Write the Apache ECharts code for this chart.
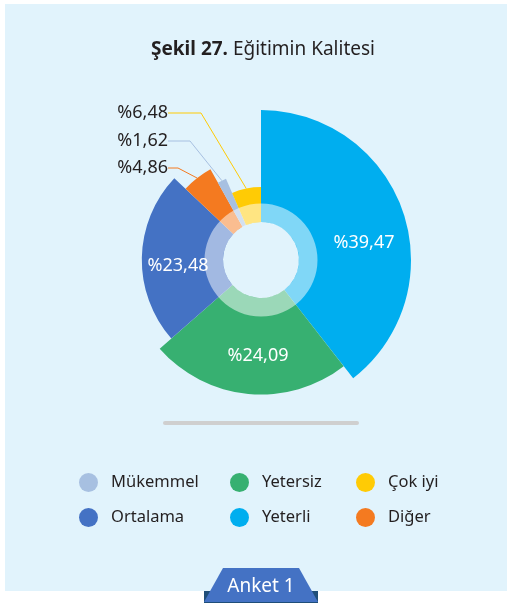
<!DOCTYPE html>
<html>
<head>
<meta charset="utf-8">
<script src="https://cdn.jsdelivr.net/npm/echarts@6/dist/echarts.min.js"></script>
<style>
  html, body { margin: 0; padding: 0; background: #fff; }
  #chart { width: 508px; height: 603px; }
</style>
</head>
<body>
<div id="chart"></div>
<script>
// veriler (saat yönünde, tepeden başlayarak)
const categories = ['Yeterli', 'Yetersiz', 'Ortalama', 'Diğer', 'Mükemmel', 'Çok iyi'];
const values = [39.47, 24.09, 23.48, 4.86, 1.62, 6.48];
// lejant sütunları
const legendColumns = [['Mükemmel', 'Ortalama'], ['Yetersiz', 'Yeterli'], ['Çok iyi', 'Diğer']];

// stil
const colors = ['#00AEEF', '#37B071', '#4472C4', '#F47A20', '#A7C0E1', '#FFCB05'];
const FONT = 'Noto Sans';
const TEXT = '#231F20';
const center = [261, 260];
const innerR = 38;
// her dilim bir öncekinden biraz kısa çiziliyor
const outerR = i => 150 - i * 15.4;
// etiket yerleri
const labelPos = [[364, 243, 'center'], [258, 356, 'center'], [178, 266, 'center'],
                  [172, 168, 'right'], [172, 141, 'right'], [172, 113, 'right']];
const lineLen2 = [0, 0, 0, 10, 22, 33];

const fmt = v => '%' + v.toFixed(2).replace('.', ',');
const colorOf = name => colors[categories.indexOf(name)];

const series = categories.map((name, i) => ({
  type: 'pie',
  silent: true,
  animation: false,
  startAngle: 90,
  clockwise: true,
  center: center,
  radius: [innerR, outerR(i)],
  avoidLabelOverlap: false,
  data: categories.map((n, j) => ({
    name: n,
    value: values[j],
    itemStyle: { color: j === i ? colors[j] : 'rgba(0,0,0,0)' },
    label: {
      show: j === i,
      position: i < 3 ? 'inside' : 'outside',
      formatter: p => fmt(p.value),
      color: i < 3 ? '#fff' : TEXT,
      fontFamily: FONT,
      fontSize: 18,
      padding: i < 3 ? 0 : [0, 4, 0, 0]
    },
    labelLine: {
      show: j === i && i >= 3,
      length: 10,
      length2: lineLen2[i],
      lineStyle: { color: colors[i], width: 1 }
    }
  })),
  labelLayout: p => p.dataIndex === i
    ? { x: labelPos[i][0], y: labelPos[i][1], align: labelPos[i][2], verticalAlign: 'middle' }
    : {}
}));

// ortadaki açık halka
series.push({
  type: 'pie',
  silent: true,
  animation: false,
  z: 5,
  center: center,
  radius: [innerR, 56.5],
  label: { show: false },
  labelLine: { show: false },
  data: [{ value: 1, name: '', itemStyle: { color: 'rgba(255,255,255,0.5)' } }]
});

const legendLeft = [74, 225, 351];
const legends = legendColumns.map((col, k) => ({
  orient: 'vertical',
  left: legendLeft[k],
  top: 468,
  icon: 'circle',
  itemWidth: 35,
  itemHeight: 19,
  itemGap: 16,
  selectedMode: false,
  textStyle: { fontFamily: FONT, fontSize: 16.5, color: TEXT, lineHeight: 19 },
  data: col.map(n => ({ name: n, itemStyle: { color: colorOf(n) } }))
}));

const chart = echarts.init(document.getElementById('chart'));
chart.setOption({
  backgroundColor: '#fff',
  title: {
    text: '{b|Şekil 27.} Eğitimin Kalitesi',
    left: 146,
    top: 35,
    textStyle: {
      fontFamily: FONT, fontSize: 19, fontWeight: 'normal', color: TEXT,
      rich: { b: { fontFamily: FONT, fontSize: 19, fontWeight: 'bold', color: TEXT } }
    }
  },
  legend: legends,
  graphic: [
    { type: 'rect', z: -10, shape: { x: 5, y: 4, width: 502, height: 587 }, style: { fill: '#E1F3FC' } },
    { type: 'rect', z: -5, shape: { x: 163, y: 421, width: 196, height: 4, r: 2 }, style: { fill: '#CFCFCF' } },
    { type: 'rect', z: -5, shape: { x: 204, y: 591, width: 114, height: 12 }, style: { fill: '#1F4E79' } },
    { type: 'polygon', z: -4, shape: { points: [[223, 568], [299, 568], [318, 602], [204, 602]] }, style: { fill: '#4472C4' } },
    { type: 'text', z: -3, x: 261, y: 587, style: { text: 'Anket 1', fill: '#fff', font: '19px "Noto Sans"', align: 'center', verticalAlign: 'middle' } }
  ],
  series: series
});
</script>
</body>
</html>
